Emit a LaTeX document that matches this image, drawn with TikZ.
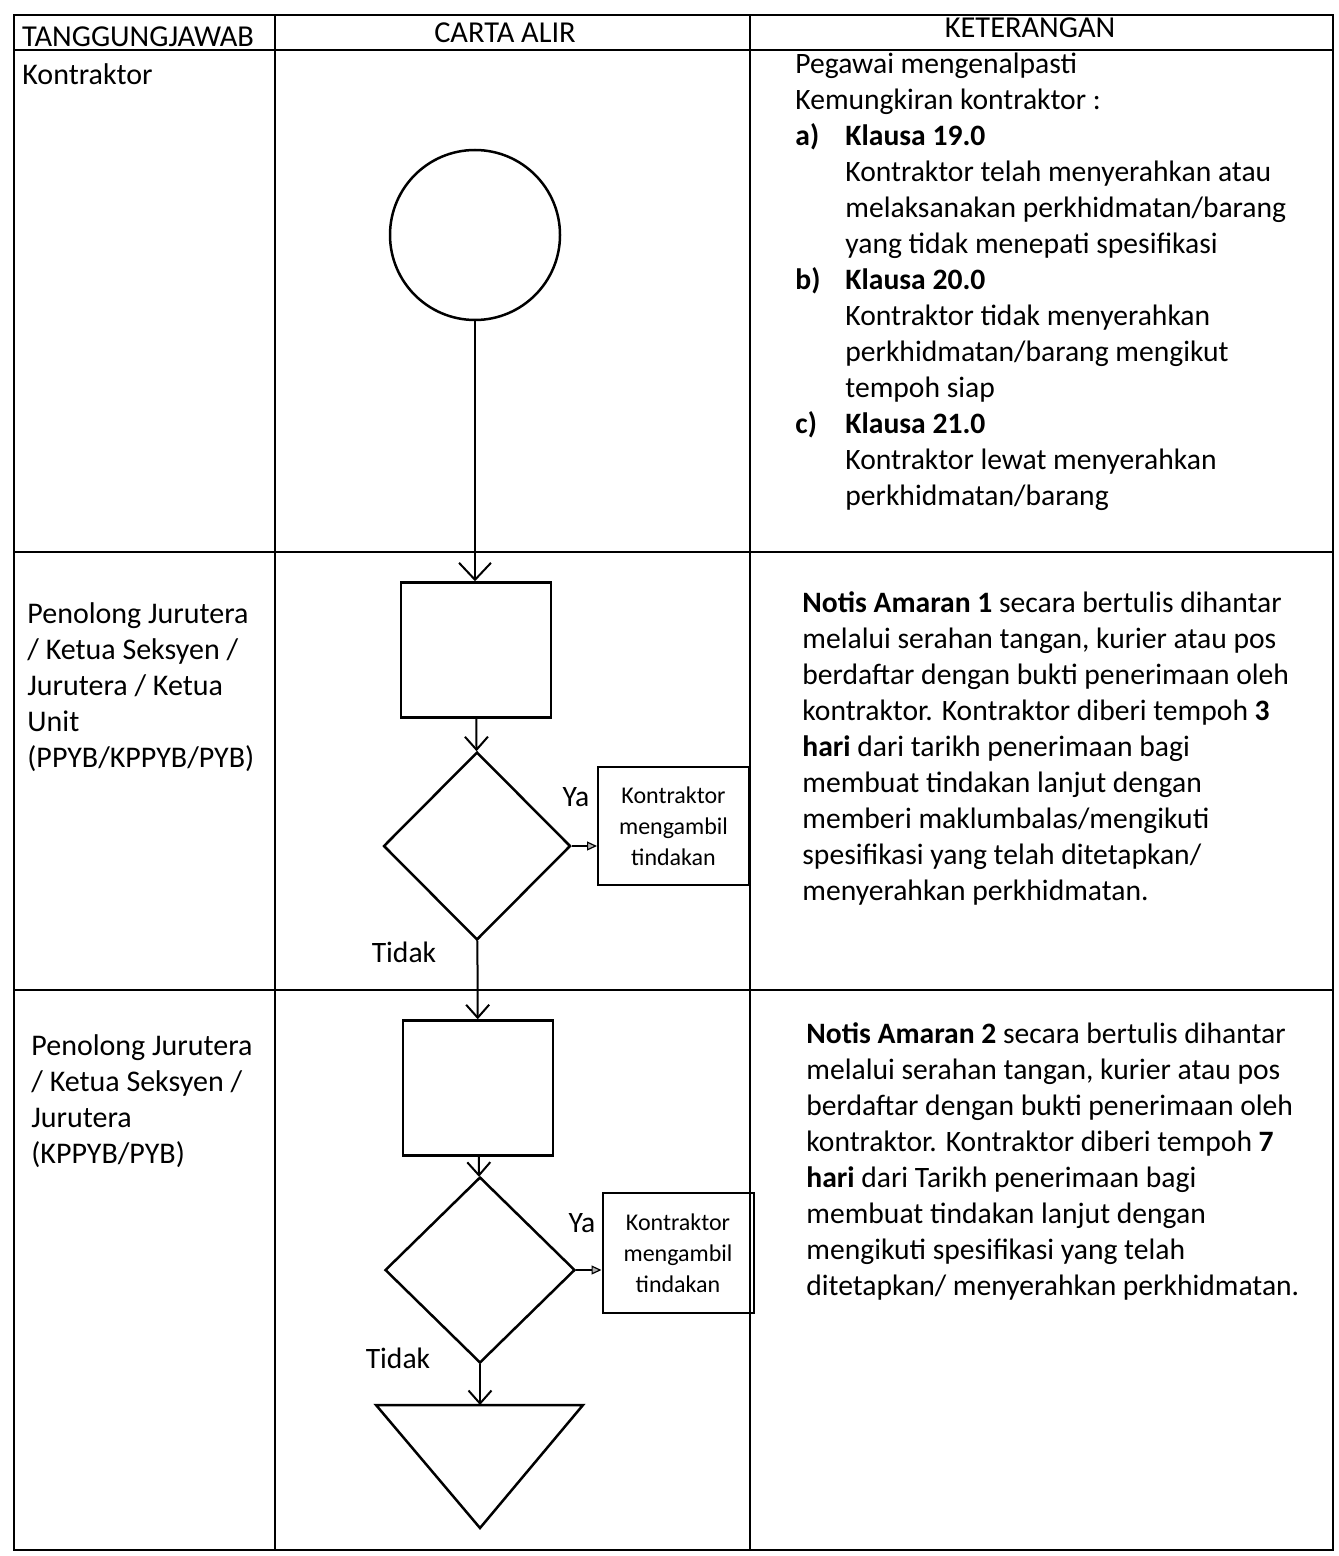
\documentclass[tikz,border=0pt]{standalone}
\usepackage{fontspec}
\setmainfont{Carlito}
\usetikzlibrary{arrows.meta,shapes.geometric}
\begin{document}
\begin{tikzpicture}[x=0.5pt,y=-0.5pt,
  tline/.style={line width=1pt},
  body/.style={font=\fontsize{14.8}{18}\selectfont},
  leftbody/.style={font=\fontsize{15}{18}\selectfont},
  txt/.style={body,anchor=north west,inner sep=0pt,align=left},
  hd/.style={font=\fontsize{15.2}{18}\selectfont,inner sep=0pt,anchor=center},
  lbl/.style={body,inner sep=0pt,anchor=center},
  shp/.style={draw,line width=1.25pt,inner sep=0pt},
  procbox/.style={shp,minimum width=75pt,minimum height=67.5pt},
  decision/.style={shp,diamond,aspect=1},
  actbox/.style={draw,line width=1pt,inner sep=0pt,minimum width=75.5pt,minimum height=59pt,
     align=center,font=\fontsize{12}{15.5}\selectfont},
  conn/.style={line width=1pt},
  bigv/.style={conn,-{Straight Barb[length=8.5pt,width=16pt]}},
  smallv/.style={conn,-{Straight Barb[length=6.5pt,width=11.5pt]}},
  yaarrow/.style={line width=0.6pt,-{Triangle[length=5pt,width=4.5pt,fill=gray!60]}}
]
\useasboundingbox (0,0) rectangle (1338,1556);
% table grid
\draw[tline] (14,15) rectangle (1333,1550);
\draw[tline] (14,50) -- (1333,50);
\draw[tline] (14,552) -- (1333,552);
\draw[tline] (14,990) -- (1333,990);
\draw[tline] (275,15) -- (275,1550);
\draw[tline] (750,15) -- (750,1550);
% headers
\node[hd] (h1) at (138,37) {TANGGUNGJAWAB};
\node[hd] (h2) at (505,33) {CARTA ALIR};
\node[hd] (h3) at (1030,28) {KETERANGAN};
% left column
\node[txt,leftbody] (r1) at (22,59) {\begin{tabular}{@{}l@{}}Kontraktor\end{tabular}};
\node[txt,leftbody] (r2) at (27,598) {\begin{tabular}{@{}l@{}}Penolong Jurutera\\/ Ketua Seksyen /\\Jurutera / Ketua\\Unit\\(PPYB/KPPYB/PYB)\end{tabular}};
\node[txt,leftbody] (r3) at (31,1030) {\begin{tabular}{@{}l@{}}Penolong Jurutera\\/ Ketua Seksyen /\\Jurutera\\(KPPYB/PYB)\end{tabular}};
% right column
\node[txt] (k1) at (795,48) {\begin{tabular}{@{}p{25pt}@{}l@{}}
\multicolumn{2}{@{}l@{}}{Pegawai mengenalpasti}\\
\multicolumn{2}{@{}l@{}}{Kemungkiran kontraktor :}\\
\textbf{a)} & \textbf{Klausa 19.0}\\
 & Kontraktor telah menyerahkan atau\\
 & melaksanakan perkhidmatan/barang\\
 & yang tidak menepati spesifikasi\\
\textbf{b)} & \textbf{Klausa 20.0}\\
 & Kontraktor tidak menyerahkan\\
 & perkhidmatan/barang mengikut\\
 & tempoh siap\\
\textbf{c)} & \textbf{Klausa 21.0}\\
 & Kontraktor lewat menyerahkan\\
 & perkhidmatan/barang
\end{tabular}};
\node[txt] (k2) at (802,587) {\begin{tabular}{@{}l@{}}
\textbf{Notis Amaran 1} secara bertulis dihantar\\
melalui serahan tangan, kurier atau pos\\
berdaftar dengan bukti penerimaan oleh\\
kontraktor. Kontraktor diberi tempoh \textbf{3}\\
\textbf{hari} dari tarikh penerimaan bagi\\
membuat tindakan lanjut dengan\\
memberi maklumbalas/mengikuti\\
spesifikasi yang telah ditetapkan/\\
menyerahkan perkhidmatan.
\end{tabular}};
\node[txt] (k3) at (806,1018) {\begin{tabular}{@{}l@{}}
\textbf{Notis Amaran 2} secara bertulis dihantar\\
melalui serahan tangan, kurier atau pos\\
berdaftar dengan bukti penerimaan oleh\\
kontraktor. Kontraktor diberi tempoh \textbf{7}\\
\textbf{hari} dari Tarikh penerimaan bagi\\
membuat tindakan lanjut dengan\\
mengikuti spesifikasi yang telah\\
ditetapkan/ menyerahkan perkhidmatan.
\end{tabular}};
% flowchart
\node[shp,circle,minimum size=85pt] (start) at (475,235) {};
\node[procbox] (p1) at (476,650) {};
\node[decision,minimum width=93.5pt,minimum height=94pt] (d1) at (477,846) {};
\node[actbox] (a1) at (673.5,826) {Kontraktor\\mengambil\\tindakan};
\node[procbox] (p2) at (478,1088) {};
\node[decision,minimum width=95pt,minimum height=93pt] (d2) at (480,1270) {};
\node[actbox,minimum height=60pt] (a2) at (678,1253) {Kontraktor\\mengambil\\tindakan};
% end triangle (off-page connector)
\coordinate (tl) at (376,1405);
\coordinate (tr) at (583,1405);
\coordinate (tb) at (480,1528);
\coordinate (ttop) at (480,1405);
\draw[line width=1.25pt,line join=miter] (tl) -- (tr) -- (tb) -- cycle;
% labels
\node[lbl] (ya1) at (576,797) {Ya};
\node[lbl] (td1) at (404,952) {Tidak};
\node[lbl] (ya2) at (582,1223) {Ya};
\node[lbl] (td2) at (398,1358) {Tidak};
% connectors
\draw[bigv] (start) -- (start |- p1.north);
\draw[smallv] (p1) -- (d1);
\draw[smallv] (d1) -- (p2);
\draw[smallv] (p2) -- (d2);
\draw[smallv] (d2) -- (ttop);
\draw[yaarrow] (d1.east) -- (d1.east -| a1.west);
\draw[yaarrow] (d2.east) -- (d2.east -| a2.west);
\end{tikzpicture}
\end{document}
